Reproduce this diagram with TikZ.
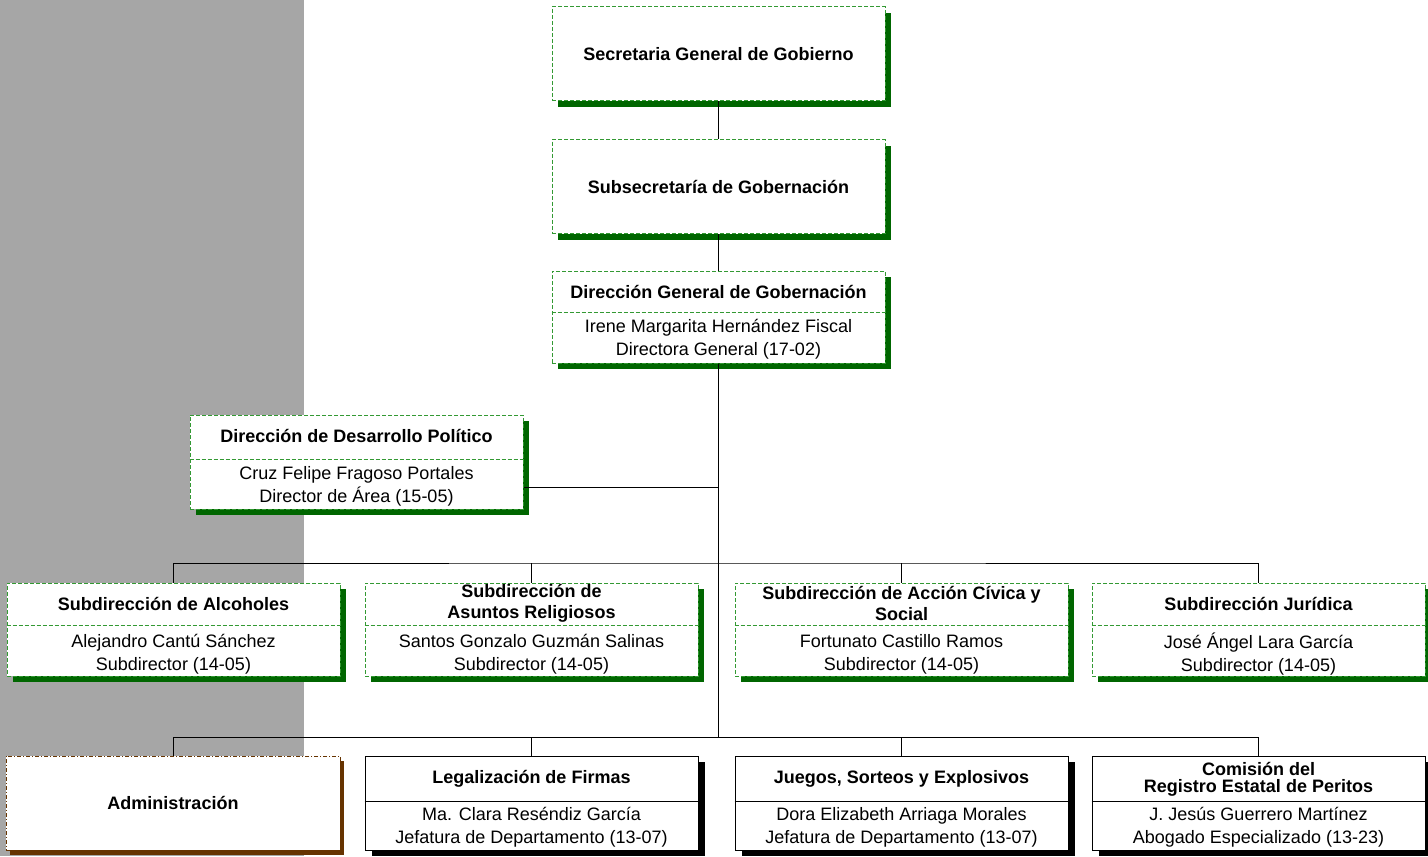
\documentclass[tikz,border=0pt]{standalone}
\usepackage{fontspec}
\setmainfont{Liberation Sans}
\usetikzlibrary{shadows}
\definecolor{bggray}{RGB}{166,166,166}
\definecolor{linegreen}{RGB}{51,153,51}
\definecolor{shadegreen}{RGB}{0,102,0}
\definecolor{shadebrown}{RGB}{102,51,0}

\begin{document}
\begin{tikzpicture}[x=0.5pt,y=-0.5pt,
  greenbox/.style={draw=linegreen,line width=0.5pt,dash pattern=on 2pt off 1pt,fill=white,
    minimum width=166.5pt,minimum height=47pt,inner sep=0pt,
    drop shadow={shadow xshift=3pt,shadow yshift=-3pt,fill=shadegreen,opacity=1}},
  blackbox/.style={draw=black,line width=0.5pt,fill=white,
    minimum width=166.5pt,minimum height=47pt,inner sep=0pt,
    drop shadow={shadow xshift=3.5pt,shadow yshift=-3pt,fill=black,opacity=1}},
  adminbox/.style={draw=shadebrown,line width=0.5pt,dash pattern=on 2pt off 1pt on 0.5pt off 1pt,fill=white,
    minimum width=167pt,minimum height=47pt,inner sep=0pt,
    drop shadow={shadow xshift=2pt,shadow yshift=-2.5pt,fill=shadebrown,opacity=1}},
  greendiv/.style={draw=linegreen,line width=0.5pt,dash pattern=on 2pt off 1pt},
  blackdiv/.style={draw=black,line width=0.5pt},
  titletext/.style={font=\bfseries\fontsize{9}{10.5}\selectfont,align=center,inner sep=0pt},
  persontext/.style={font=\fontsize{9}{11.5}\selectfont,align=center,inner sep=0pt},
  link/.style={draw=black,line width=0.5pt}]
\useasboundingbox (0,0) rectangle (1428,856);
%-------->gray band<--------------
\fill[bggray] (0,0) rectangle (304,856);
%-------->main column<--------------
\node[greenbox,titletext] (sgg) at (718.5,54) {Secretaria General de Gobierno};
\node[greenbox,titletext] (subg) at (718.5,186.5) {Subsecretaría de Gobernación};
\node[greenbox,minimum height=46pt] (dgg) at (718.5,317) {};
\draw[greendiv] (dgg.west |- 0,312) -- (dgg.east |- 0,312);
\node[titletext] (dggt) at (718.5,292) {Dirección General de Gobernación};
\node[persontext] (dggp) at (718.5,339.5) {Irene Margarita Hernández Fiscal\\Directora General (17-02)};
%-------->staff unit<--------------
\node[greenbox] (ddp) at (356.5,462) {};
\draw[greendiv] (ddp.west |- 0,459) -- (ddp.east |- 0,459);
\node[titletext] (ddpt) at (356.5,436) {Dirección de Desarrollo Político};
\node[persontext] (ddpp) at (356.5,486) {Cruz Felipe Fragoso Portales\\Director de Área (15-05)};
%-------->subdirecciones<--------------
\node[greenbox,minimum height=46.5pt] (alc) at (173.5,629.5) {};
\node[greenbox,minimum height=46.5pt] (rel) at (531.5,629.5) {};
\node[greenbox,minimum height=46.5pt] (acc) at (901.5,629.5) {};
\node[greenbox,minimum height=46.5pt] (jur) at (1258.5,629.5) {};
\draw[greendiv] (alc.west |- 0,625) -- (alc.east |- 0,625);
\draw[greendiv] (rel.west |- 0,625) -- (rel.east |- 0,625);
\draw[greendiv] (acc.west |- 0,625) -- (acc.east |- 0,625);
\draw[greendiv] (jur.west |- 0,625) -- (jur.east |- 0,625);
\node[titletext] (alct) at (173.5,604) {Subdirección de Alcoholes};
\node[titletext] (relt) at (531.5,603) {Subdirección de\\Asuntos Religiosos};
\node[titletext] (acct) at (901.5,603) {Subdirección de Acción Cívica y\\Social};
\node[titletext] (jurt) at (1258.5,604) {Subdirección Jurídica};
\node[persontext] (alcp) at (173.5,654.5) {Alejandro Cantú Sánchez\\Subdirector (14-05)};
\node[persontext] (relp) at (531.5,654.5) {Santos Gonzalo Guzmán Salinas\\Subdirector (14-05)};
\node[persontext] (accp) at (901.5,654.5) {Fortunato Castillo Ramos\\Subdirector (14-05)};
\node[persontext] (jurp) at (1258.5,654.5) {José Ángel Lara García\\Subdirector (14-05)};
%-------->departamentos<--------------
\node[adminbox,titletext] (adm) at (173,803) {Administración};
\node[blackbox] (leg) at (531.5,803) {};
\node[blackbox] (jue) at (901.5,803) {};
\node[blackbox] (com) at (1258.5,803) {};
\draw[blackdiv] (leg.west |- 0,801) -- (leg.east |- 0,801);
\draw[blackdiv] (jue.west |- 0,801) -- (jue.east |- 0,801);
\draw[blackdiv] (com.west |- 0,801) -- (com.east |- 0,801);
\node[titletext] (legt) at (531.5,778.5) {Legalización de Firmas};
\node[titletext] (juet) at (901.5,778.5) {Juegos, Sorteos y Explosivos};
\node[titletext,font=\bfseries\fontsize{9}{8.5}\selectfont] (comt) at (1258.5,779) {Comisión del\\Registro Estatal de Peritos};
\node[persontext] (legp) at (531.5,827.5) {Ma. Clara Reséndiz García\\Jefatura de Departamento (13-07)};
\node[persontext] (juep) at (901.5,827.5) {Dora Elizabeth Arriaga Morales\\Jefatura de Departamento (13-07)};
\node[persontext] (comp) at (1258.5,827.5) {J. Jesús Guerrero Martínez\\Abogado Especializado (13-23)};
%-------->connectors<--------------
\coordinate (busA) at (718.5,563);
\coordinate (busB) at (718.5,737);
\coordinate (ddpjoin) at (718.5,487);
\draw[link] (sgg.south) -- (subg.north);
\draw[link] (subg.south) -- (dgg.north);
\draw[link] (dgg.south) -- (busB);
\draw[link] (ddpjoin) -- (ddpjoin -| ddp.east);
\draw[link] (alc.north) |- (busA) -| (jur.north);
\draw[link] (rel.north) -- (rel.north |- busA);
\draw[link] (acc.north) -- (acc.north |- busA);
\draw[link] (adm.north) |- (busB) -| (com.north);
\draw[link] (leg.north) -- (leg.north |- busB);
\draw[link] (jue.north) -- (jue.north |- busB);
\end{tikzpicture}
\end{document}
